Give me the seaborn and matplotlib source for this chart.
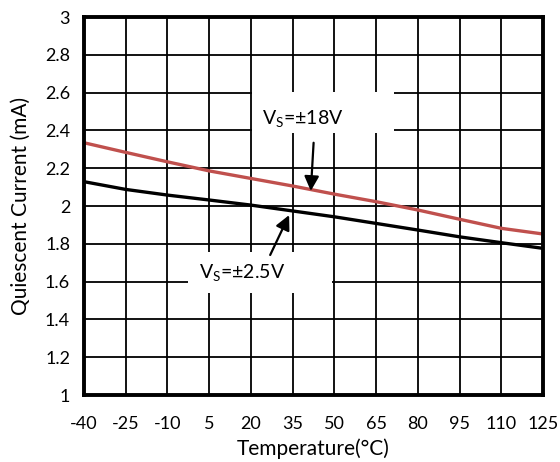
import matplotlib
matplotlib.use("Agg")
import matplotlib.pyplot as plt
import seaborn as sns
import pandas as pd
from matplotlib.patches import Rectangle

temps = [-40, -25, -10, 5, 20, 35, 50, 65, 80, 95, 110, 125]
iq_18v = [2.335, 2.284, 2.234, 2.186, 2.146, 2.106, 2.063, 2.023, 1.979, 1.930, 1.882, 1.852]
iq_2p5v = [2.129, 2.088, 2.058, 2.032, 2.005, 1.974, 1.943, 1.908, 1.873, 1.837, 1.806, 1.776]
series_names = ["VS=±18V", "VS=±2.5V"]
x_ticks = [-40, -25, -10, 5, 20, 35, 50, 65, 80, 95, 110, 125]
y_ticks = [1, 1.2, 1.4, 1.6, 1.8, 2, 2.2, 2.4, 2.6, 2.8, 3]
y_tick_labels = ["1", "1.2", "1.4", "1.6", "1.8", "2", "2.2", "2.4", "2.6", "2.8", "3"]

df = pd.DataFrame({
    "Temperature": temps * 2,
    "Iq": iq_18v + iq_2p5v,
    "Series": [series_names[0]] * len(temps) + [series_names[1]] * len(temps),
})

sns.set_theme(style="white")
plt.rcParams["font.family"] = ["Lato", "DejaVu Sans"]
plt.rcParams["mathtext.default"] = "regular"

fig = plt.figure(figsize=(5.6, 4.62), dpi=100)
ax = fig.add_axes([0.150, 0.145, 0.820, 0.818])

sns.lineplot(data=df, x="Temperature", y="Iq", hue="Series",
             palette={series_names[0]: "#C0504D", series_names[1]: "#000000"},
             linewidth=2.4, legend=False, ax=ax, zorder=5)

ax.set_xlim(-40, 125)
ax.set_ylim(1, 3)
ax.set_xticks(x_ticks)
ax.set_xticklabels([str(t) for t in x_ticks])
ax.set_yticks(y_ticks)
ax.set_yticklabels(y_tick_labels)
ax.grid(True, color="black", linewidth=1.3, zorder=0)
ax.set_axisbelow(True)
for s in ax.spines.values():
    s.set_visible(True)
    s.set_color("black")
    s.set_linewidth(2.8)
    s.set_zorder(10)
ax.tick_params(axis="both", length=0, labelsize=13, colors="black")
ax.tick_params(axis="x", pad=15)
ax.tick_params(axis="y", pad=10)
ax.set_xlabel("Temperature(°C)", fontsize=15, color="black", labelpad=5)
ax.set_ylabel("Quiescent Current (mA)", fontsize=15, color="black", labelpad=10)

# white label boxes
ax.add_patch(Rectangle((20.4, 2.386), 51.1, 0.218, facecolor="white", edgecolor="none", zorder=3))
ax.add_patch(Rectangle((-2.6, 1.54), 51.8, 0.216, facecolor="white", edgecolor="none", zorder=3))

ax.text(24.0, 2.465, "V$_{S}$=±18V", fontsize=14, color="black", va="center", ha="left", zorder=6)
ax.text(1.5, 1.65, "V$_{S}$=±2.5V", fontsize=14, color="black", va="center", ha="left", zorder=6)

ax.annotate("", xy=(41.5, 2.08), xytext=(42.5, 2.335),
            arrowprops=dict(arrowstyle="-|>", color="black", lw=1.6, mutation_scale=22,
                            shrinkA=0, shrinkB=0), zorder=7)
ax.annotate("", xy=(33.7, 1.952), xytext=(26.9, 1.741),
            arrowprops=dict(arrowstyle="-|>", color="black", lw=1.6, mutation_scale=22,
                            shrinkA=0, shrinkB=0), zorder=7)

fig.savefig("out.png", dpi=100, facecolor="white")
